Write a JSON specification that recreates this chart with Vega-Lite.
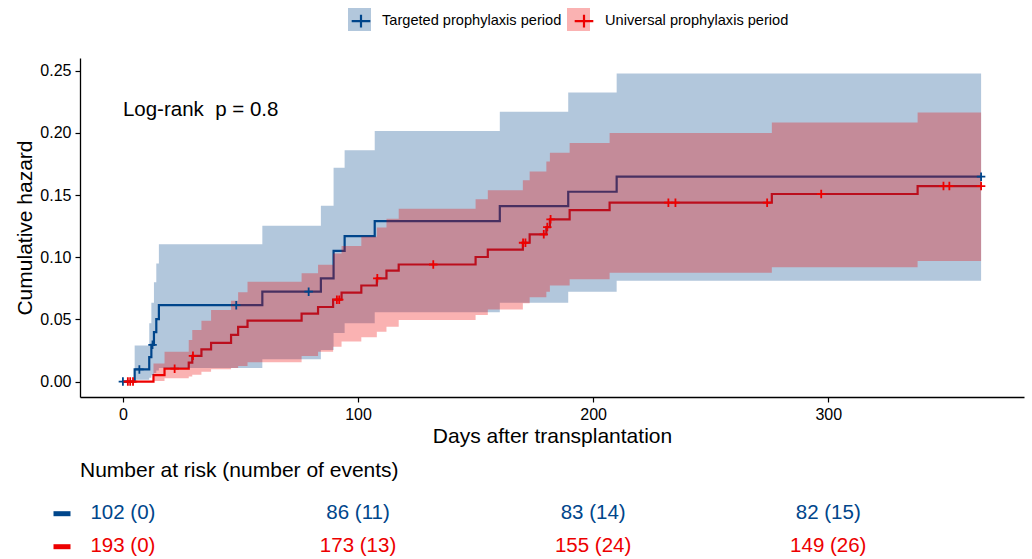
{
  "$schema": "https://vega.github.io/schema/vega-lite/v6.json",
  "padding": {"left": 14, "top": 8, "right": 5, "bottom": 5},
  "background": "white",
  "bounds": "flush",
  "spacing": 99.2,
  "resolve": {
    "scale": {"fill": "independent", "stroke": "independent", "color": "independent"},
    "legend": {"fill": "independent", "stroke": "independent", "color": "independent"}
  },
  "config": {
    "font": "Liberation Sans",
    "view": {"stroke": null},
    "axis": {
      "grid": false,
      "domainColor": "#000000",
      "domainWidth": 1.3,
      "tickColor": "#000000",
      "tickWidth": 1.2,
      "tickSize": 5,
      "labelColor": "#000000",
      "labelFontSize": 16,
      "labelFont": "Liberation Sans",
      "titleColor": "#000000",
      "titleFont": "Liberation Sans",
      "titleFontWeight": "normal",
      "titleFontSize": 21
    }
  },
  "datasets": {
    "curve": [
      {"group": "Targeted prophylaxis period", "day": 0, "cumhaz": 0},
      {"group": "Targeted prophylaxis period", "day": 5, "cumhaz": 0.0098},
      {"group": "Targeted prophylaxis period", "day": 11.2, "cumhaz": 0.0196},
      {"group": "Targeted prophylaxis period", "day": 12.1, "cumhaz": 0.0296},
      {"group": "Targeted prophylaxis period", "day": 13.2, "cumhaz": 0.0398},
      {"group": "Targeted prophylaxis period", "day": 14.2, "cumhaz": 0.0502},
      {"group": "Targeted prophylaxis period", "day": 15.3, "cumhaz": 0.0615},
      {"group": "Targeted prophylaxis period", "day": 59.3, "cumhaz": 0.0723},
      {"group": "Targeted prophylaxis period", "day": 84.2, "cumhaz": 0.0830},
      {"group": "Targeted prophylaxis period", "day": 89.6, "cumhaz": 0.1052},
      {"group": "Targeted prophylaxis period", "day": 94.3, "cumhaz": 0.1170},
      {"group": "Targeted prophylaxis period", "day": 107.1, "cumhaz": 0.1290},
      {"group": "Targeted prophylaxis period", "day": 160.3, "cumhaz": 0.1412},
      {"group": "Targeted prophylaxis period", "day": 189.4, "cumhaz": 0.1527},
      {"group": "Targeted prophylaxis period", "day": 210, "cumhaz": 0.1648},
      {"group": "Targeted prophylaxis period", "day": 365, "cumhaz": 0.1648},
      {"group": "Universal prophylaxis period", "day": 0, "cumhaz": 0},
      {"group": "Universal prophylaxis period", "day": 13, "cumhaz": 0.0052},
      {"group": "Universal prophylaxis period", "day": 17.7, "cumhaz": 0.0104},
      {"group": "Universal prophylaxis period", "day": 28, "cumhaz": 0.0152},
      {"group": "Universal prophylaxis period", "day": 29.5, "cumhaz": 0.0207},
      {"group": "Universal prophylaxis period", "day": 33.4, "cumhaz": 0.0259},
      {"group": "Universal prophylaxis period", "day": 37.5, "cumhaz": 0.0311},
      {"group": "Universal prophylaxis period", "day": 46, "cumhaz": 0.0375},
      {"group": "Universal prophylaxis period", "day": 49, "cumhaz": 0.0440},
      {"group": "Universal prophylaxis period", "day": 53, "cumhaz": 0.0490},
      {"group": "Universal prophylaxis period", "day": 76, "cumhaz": 0.0546},
      {"group": "Universal prophylaxis period", "day": 83, "cumhaz": 0.0600},
      {"group": "Universal prophylaxis period", "day": 89.4, "cumhaz": 0.0659},
      {"group": "Universal prophylaxis period", "day": 93, "cumhaz": 0.0716},
      {"group": "Universal prophylaxis period", "day": 101.4, "cumhaz": 0.0773},
      {"group": "Universal prophylaxis period", "day": 108, "cumhaz": 0.0831},
      {"group": "Universal prophylaxis period", "day": 112.1, "cumhaz": 0.0892},
      {"group": "Universal prophylaxis period", "day": 117.3, "cumhaz": 0.0942},
      {"group": "Universal prophylaxis period", "day": 150, "cumhaz": 0.1002},
      {"group": "Universal prophylaxis period", "day": 155.2, "cumhaz": 0.1062},
      {"group": "Universal prophylaxis period", "day": 170.1, "cumhaz": 0.1117},
      {"group": "Universal prophylaxis period", "day": 173, "cumhaz": 0.1185},
      {"group": "Universal prophylaxis period", "day": 180.1, "cumhaz": 0.1243},
      {"group": "Universal prophylaxis period", "day": 181.6, "cumhaz": 0.1305},
      {"group": "Universal prophylaxis period", "day": 190, "cumhaz": 0.1380},
      {"group": "Universal prophylaxis period", "day": 207, "cumhaz": 0.1439},
      {"group": "Universal prophylaxis period", "day": 276, "cumhaz": 0.1509},
      {"group": "Universal prophylaxis period", "day": 338, "cumhaz": 0.1573},
      {"group": "Universal prophylaxis period", "day": 365, "cumhaz": 0.1573}
    ],
    "band": [
      {"group": "Targeted prophylaxis period", "day": 5, "lower": 0.0014, "upper": 0.029},
      {"group": "Targeted prophylaxis period", "day": 11.2, "lower": 0.003, "upper": 0.047},
      {"group": "Targeted prophylaxis period", "day": 12.1, "lower": 0.005, "upper": 0.0635},
      {"group": "Targeted prophylaxis period", "day": 13.2, "lower": 0.007, "upper": 0.080},
      {"group": "Targeted prophylaxis period", "day": 14.2, "lower": 0.009, "upper": 0.095},
      {"group": "Targeted prophylaxis period", "day": 15.3, "lower": 0.011, "upper": 0.1104},
      {"group": "Targeted prophylaxis period", "day": 59.3, "lower": 0.018, "upper": 0.1254},
      {"group": "Targeted prophylaxis period", "day": 84.2, "lower": 0.0255, "upper": 0.1415},
      {"group": "Targeted prophylaxis period", "day": 89.6, "lower": 0.039, "upper": 0.172},
      {"group": "Targeted prophylaxis period", "day": 94.3, "lower": 0.047, "upper": 0.186},
      {"group": "Targeted prophylaxis period", "day": 107.1, "lower": 0.0558, "upper": 0.2015},
      {"group": "Targeted prophylaxis period", "day": 160.3, "lower": 0.0635, "upper": 0.217},
      {"group": "Targeted prophylaxis period", "day": 189.4, "lower": 0.0723, "upper": 0.2326},
      {"group": "Targeted prophylaxis period", "day": 210, "lower": 0.0812, "upper": 0.2479},
      {"group": "Targeted prophylaxis period", "day": 365, "lower": 0.0812, "upper": 0.2479},
      {"group": "Universal prophylaxis period", "day": 13, "lower": 0.0005, "upper": 0.0145},
      {"group": "Universal prophylaxis period", "day": 17.7, "lower": 0.0027, "upper": 0.024},
      {"group": "Universal prophylaxis period", "day": 28, "lower": 0.004, "upper": 0.0335},
      {"group": "Universal prophylaxis period", "day": 29.5, "lower": 0.0055, "upper": 0.0415},
      {"group": "Universal prophylaxis period", "day": 33.4, "lower": 0.008, "upper": 0.049},
      {"group": "Universal prophylaxis period", "day": 37.5, "lower": 0.010, "upper": 0.0576},
      {"group": "Universal prophylaxis period", "day": 46, "lower": 0.011, "upper": 0.065},
      {"group": "Universal prophylaxis period", "day": 49, "lower": 0.0125, "upper": 0.0719},
      {"group": "Universal prophylaxis period", "day": 53, "lower": 0.0155, "upper": 0.0804},
      {"group": "Universal prophylaxis period", "day": 76, "lower": 0.0205, "upper": 0.0872},
      {"group": "Universal prophylaxis period", "day": 83, "lower": 0.024, "upper": 0.094},
      {"group": "Universal prophylaxis period", "day": 89.4, "lower": 0.028, "upper": 0.103},
      {"group": "Universal prophylaxis period", "day": 93, "lower": 0.0322, "upper": 0.109},
      {"group": "Universal prophylaxis period", "day": 101.4, "lower": 0.0357, "upper": 0.1166},
      {"group": "Universal prophylaxis period", "day": 108, "lower": 0.040, "upper": 0.124},
      {"group": "Universal prophylaxis period", "day": 112.1, "lower": 0.0442, "upper": 0.131},
      {"group": "Universal prophylaxis period", "day": 117.3, "lower": 0.0496, "upper": 0.139},
      {"group": "Universal prophylaxis period", "day": 150, "lower": 0.0536, "upper": 0.1466},
      {"group": "Universal prophylaxis period", "day": 155.2, "lower": 0.058, "upper": 0.154},
      {"group": "Universal prophylaxis period", "day": 170.1, "lower": 0.063, "upper": 0.162},
      {"group": "Universal prophylaxis period", "day": 173, "lower": 0.0678, "upper": 0.169},
      {"group": "Universal prophylaxis period", "day": 180.1, "lower": 0.0723, "upper": 0.177},
      {"group": "Universal prophylaxis period", "day": 181.6, "lower": 0.0772, "upper": 0.184},
      {"group": "Universal prophylaxis period", "day": 190, "lower": 0.0823, "upper": 0.192},
      {"group": "Universal prophylaxis period", "day": 207, "lower": 0.0876, "upper": 0.200},
      {"group": "Universal prophylaxis period", "day": 276, "lower": 0.092, "upper": 0.2085},
      {"group": "Universal prophylaxis period", "day": 338, "lower": 0.097, "upper": 0.2165},
      {"group": "Universal prophylaxis period", "day": 365, "lower": 0.097, "upper": 0.2165}
    ],
    "censor": [
      {"group": "Targeted prophylaxis period", "day": 0, "cumhaz": 0},
      {"group": "Targeted prophylaxis period", "day": 7, "cumhaz": 0.0098},
      {"group": "Targeted prophylaxis period", "day": 12.6, "cumhaz": 0.0296},
      {"group": "Targeted prophylaxis period", "day": 48.2, "cumhaz": 0.0615},
      {"group": "Targeted prophylaxis period", "day": 79, "cumhaz": 0.0723},
      {"group": "Targeted prophylaxis period", "day": 365, "cumhaz": 0.1648},
      {"group": "Universal prophylaxis period", "day": 2.1, "cumhaz": 0},
      {"group": "Universal prophylaxis period", "day": 3.1, "cumhaz": 0},
      {"group": "Universal prophylaxis period", "day": 4.3, "cumhaz": 0},
      {"group": "Universal prophylaxis period", "day": 22, "cumhaz": 0.0104},
      {"group": "Universal prophylaxis period", "day": 29.8, "cumhaz": 0.0207},
      {"group": "Universal prophylaxis period", "day": 91, "cumhaz": 0.0659},
      {"group": "Universal prophylaxis period", "day": 92, "cumhaz": 0.0659},
      {"group": "Universal prophylaxis period", "day": 108.2, "cumhaz": 0.0831},
      {"group": "Universal prophylaxis period", "day": 132, "cumhaz": 0.0942},
      {"group": "Universal prophylaxis period", "day": 170.2, "cumhaz": 0.1117},
      {"group": "Universal prophylaxis period", "day": 171.2, "cumhaz": 0.1117},
      {"group": "Universal prophylaxis period", "day": 179, "cumhaz": 0.1185},
      {"group": "Universal prophylaxis period", "day": 180.5, "cumhaz": 0.1243},
      {"group": "Universal prophylaxis period", "day": 181.9, "cumhaz": 0.1305},
      {"group": "Universal prophylaxis period", "day": 232, "cumhaz": 0.1439},
      {"group": "Universal prophylaxis period", "day": 235, "cumhaz": 0.1439},
      {"group": "Universal prophylaxis period", "day": 274, "cumhaz": 0.1439},
      {"group": "Universal prophylaxis period", "day": 297, "cumhaz": 0.1509},
      {"group": "Universal prophylaxis period", "day": 349, "cumhaz": 0.1573},
      {"group": "Universal prophylaxis period", "day": 351.5, "cumhaz": 0.1573},
      {"group": "Universal prophylaxis period", "day": 365, "cumhaz": 0.1573}
    ],
    "risk": [
      {"group": "Targeted prophylaxis period", "day": 0, "label": "102 (0)"},
      {"group": "Targeted prophylaxis period", "day": 100, "label": "86 (11)"},
      {"group": "Targeted prophylaxis period", "day": 200, "label": "83 (14)"},
      {"group": "Targeted prophylaxis period", "day": 300, "label": "82 (15)"},
      {"group": "Universal prophylaxis period", "day": 0, "label": "193 (0)"},
      {"group": "Universal prophylaxis period", "day": 100, "label": "173 (13)"},
      {"group": "Universal prophylaxis period", "day": 200, "label": "155 (24)"},
      {"group": "Universal prophylaxis period", "day": 300, "label": "149 (26)"}
    ]
  },
  "vconcat": [
    {
      "width": 944,
      "height": 339,
      "layer": [
        {
          "data": {"name": "curve"},
          "mark": {"type": "line", "interpolate": "step-after", "strokeWidth": 2.2},
          "encoding": {
            "x": {
              "field": "day", "type": "quantitative",
              "scale": {"domain": [-18.25, 383.25], "nice": false, "zero": false},
              "axis": {"values": [0, 100, 200, 300], "title": "Days after transplantation", "labelPadding": 4, "titlePadding": 3}
            },
            "y": {
              "field": "cumhaz", "type": "quantitative",
              "scale": {"domain": [-0.0124, 0.2603], "nice": false, "zero": false},
              "axis": {"values": [0, 0.05, 0.1, 0.15, 0.2, 0.25], "format": ".2f", "title": "Cumulative hazard", "labelPadding": 4, "titlePadding": 4}
            },
            "stroke": {
              "field": "group", "type": "nominal",
              "scale": {"domain": ["Targeted prophylaxis period", "Universal prophylaxis period"], "range": ["#00468B", "#ED0000"]},
              "legend": {
                "title": null, "orient": "none", "legendX": 268, "legendY": -50,
                "direction": "horizontal", "columns": 2, "padding": 0,
                "symbolType": "M-0.81,0H0.81M0,-0.55V0.55", "symbolSize": 529,
                "symbolStrokeWidth": 2.2, "symbolFillColor": "transparent",
                "labelFontSize": 14.6, "labelFont": "Liberation Sans", "labelColor": "#000000", "labelLimit": 400,
                "labelOffset": 8, "columnPadding": 8
              }
            }
          }
        },
        {
          "data": {"name": "band"},
          "mark": {"type": "area", "interpolate": "step-after", "fillOpacity": 0.3},
          "encoding": {
            "x": {"field": "day", "type": "quantitative", "title": "Days after transplantation"},
            "y": {"field": "lower", "type": "quantitative", "stack": null, "title": "Cumulative hazard"},
            "y2": {"field": "upper"},
            "fill": {
              "field": "group", "type": "nominal",
              "scale": {"range": ["#00468B", "#ED0000"]},
              "legend": {
                "title": null, "orient": "none", "legendX": 268, "legendY": -50,
                "direction": "horizontal", "columns": 2, "padding": 0,
                "symbolType": "square", "symbolSize": 529, "symbolOpacity": 0.3,
                "symbolStrokeWidth": 0,
                "labelExpr": "''", "labelFontSize": 14.6, "labelFont": "Liberation Sans",
                "labelOffset": 8, "columnPadding": 188
              }
            }
          }
        },
        {
          "data": {"name": "censor"},
          "mark": {"type": "point", "shape": "M-1,0H1M0,-1V1", "size": 72, "filled": false, "strokeWidth": 1.8, "opacity": 1},
          "encoding": {
            "x": {"field": "day", "type": "quantitative", "title": "Days after transplantation"},
            "y": {"field": "cumhaz", "type": "quantitative", "title": "Cumulative hazard"},
            "stroke": {"field": "group", "type": "nominal", "legend": null}
          }
        },
        {
          "data": {"values": [{"label": "Log-rank\u00a0 p = 0.8"}]},
          "mark": {"type": "text", "align": "left", "baseline": "middle", "fontSize": 20.5, "font": "Liberation Sans", "color": "#000000"},
          "encoding": {
            "x": {"datum": 0, "type": "quantitative", "title": "Days after transplantation"},
            "y": {"datum": 0.2185, "type": "quantitative", "title": "Cumulative hazard"},
            "text": {"field": "label"}
          }
        }
      ]
    },
    {
      "width": 944,
      "height": 66,
      "title": {"text": "Number at risk (number of events)", "anchor": "start", "frame": "group", "fontSize": 21, "fontWeight": "normal", "font": "Liberation Sans", "color": "#000000", "baseline": "alphabetic", "offset": -2},
      "data": {"name": "risk"},
      "mark": {"type": "text", "fontSize": 20.5, "font": "Liberation Sans", "align": "center", "baseline": "middle"},
      "encoding": {
        "x": {"field": "day", "type": "quantitative", "scale": {"domain": [-18.25, 383.25], "nice": false, "zero": false}, "axis": null},
        "y": {
          "field": "group", "type": "nominal",
          "scale": {"type": "point", "padding": 0.5},
          "axis": {
            "title": null, "labels": false, "domain": false, "offset": 10,
            "tickSize": 17, "tickWidth": 5, "tickCap": "butt",
            "tickColor": {"condition": {"test": "datum.value === 'Targeted prophylaxis period'", "value": "#00468B"}, "value": "#ED0000"}
          }
        },
        "color": {"field": "group", "type": "nominal", "scale": {"range": ["#00468B", "#ED0000"]}, "legend": null},
        "text": {"field": "label"}
      }
    }
  ]
}
